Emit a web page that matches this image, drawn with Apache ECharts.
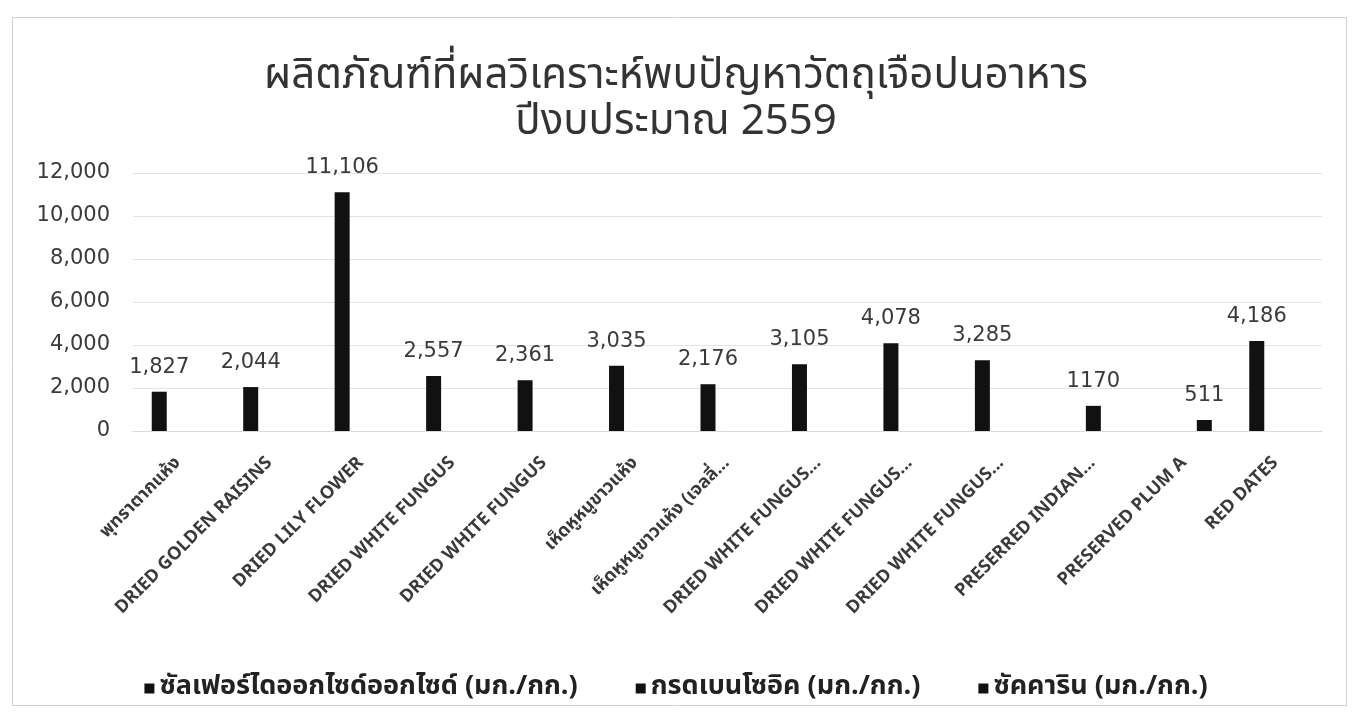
<!DOCTYPE html>
<html>
<head>
<meta charset="utf-8">
<script src="https://cdn.jsdelivr.net/npm/echarts@6/dist/echarts.min.js"></script>
<style>
  html, body { margin: 0; padding: 0; background: #fff; }
  #chart { width: 1352px; height: 715px; }
</style>
</head>
<body>
<div id="chart"></div>
<script>
// Products with food-additive findings, fiscal year 2559
const categories = [
  'พุทราตากแห้ง',
  'DRIED GOLDEN RAISINS',
  'DRIED LILY FLOWER',
  'DRIED WHITE FUNGUS',
  'DRIED WHITE FUNGUS',
  'เห็ดหูหนูขาวแห้ง',
  'เห็ดหูหนูขาวแห้ง (เจลลี่...',
  'DRIED WHITE FUNGUS...',
  'DRIED WHITE FUNGUS...',
  'DRIED WHITE FUNGUS...',
  'PRESERRED INDIAN...',
  'PRESERVED PLUM A',
  'RED DATES'
];
const seriesNames = [
  'ซัลเฟอร์ไดออกไซด์ออกไซด์ (มก./กก.)',
  'กรดเบนโซอิค (มก./กก.)',
  'ซัคคาริน (มก./กก.)'
];
const sulfurDioxide = [1827, 2044, 11106, 2557, 2361, 3035, 2176, 3105, 4078, 3285, '-', '-', 4186];
const benzoicAcid   = ['-', '-', '-', '-', '-', '-', '-', '-', '-', '-', 1170, '-', '-'];
const saccharin     = ['-', '-', '-', '-', '-', '-', '-', '-', '-', '-', '-', 511, '-'];
const yTicks = { min: 0, max: 12000, interval: 2000 };

const thaiFont = '"Noto Sans Thai", "Noto Sans", "DejaVu Sans", sans-serif';
const numFont = '"DejaVu Sans", "Noto Sans", sans-serif';

const withCommas = v => Number(v).toLocaleString('en-US');

function barSeries(name, data, fmt) {
  return {
    name: name,
    type: 'bar',
    data: data,
    barWidth: 15,
    barGap: '30%',
    itemStyle: { color: '#111111' },
    label: {
      show: true,
      position: 'top',
      distance: 14,
      color: '#3a3a3a',
      fontFamily: numFont,
      fontSize: 21,
      formatter: p => fmt(p.value)
    }
  };
}

const chart = echarts.init(document.getElementById('chart'), null, { renderer: 'canvas' });
chart.setOption({
  backgroundColor: '#ffffff',
  animation: false,
  title: {
    text: 'ผลิตภัณฑ์ที่ผลวิเคราะห์พบปัญหาวัตถุเจือปนอาหาร\nปีงบประมาณ 2559',
    left: 'center',
    top: 52,
    textStyle: {
      fontFamily: thaiFont,
      fontSize: 42,
      fontWeight: 'normal',
      color: '#333333',
      lineHeight: 46
    }
  },
  legend: {
    bottom: 8,
    left: 'center',
    itemWidth: 10,
    itemHeight: 10,
    itemGap: 58,
    icon: 'rect',
    textStyle: { fontFamily: thaiFont, fontSize: 27, color: '#222222', fontWeight: 'bold' },
    data: seriesNames
  },
  grid: { left: 133, right: 30, top: 173, bottom: 284 },
  xAxis: {
    type: 'category',
    data: categories,
    axisLine: { lineStyle: { color: '#d9d9d9', width: 1 } },
    axisTick: { show: false },
    axisLabel: {
      rotate: 45,
      interval: 0,
      margin: 30,
      fontFamily: thaiFont,
      fontSize: 18,
      fontWeight: 'bold',
      color: '#3a3a3a'
    }
  },
  yAxis: {
    type: 'value',
    min: yTicks.min,
    max: yTicks.max,
    interval: yTicks.interval,
    axisLine: { show: false },
    axisTick: { show: false },
    splitLine: { lineStyle: { color: '#e3e3e3', width: 1 } },
    axisLabel: {
      margin: 23,
      fontFamily: numFont,
      fontSize: 21,
      color: '#3a3a3a',
      formatter: v => withCommas(v)
    }
  },
  graphic: [{
    type: 'rect',
    shape: { x: 12.5, y: 17.5, width: 1334, height: 688 },
    style: { fill: 'none', stroke: '#cfcfcf', lineWidth: 1 },
    silent: true
  }],
  series: [
    barSeries(seriesNames[0], sulfurDioxide, withCommas),
    barSeries(seriesNames[1], benzoicAcid, v => String(v)),
    barSeries(seriesNames[2], saccharin, withCommas)
  ]
});
</script>
</body>
</html>
